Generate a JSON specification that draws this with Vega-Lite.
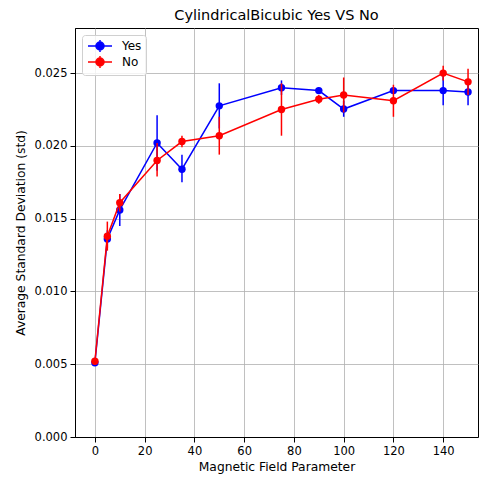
{
  "$schema": "https://vega.github.io/schema/vega-lite/v6.json",
  "autosize": {"type": "none"},
  "padding": {"left": 75, "top": 28, "right": 1, "bottom": 42},
  "width": 403,
  "height": 409,
  "background": "white",
  "title": {"text": "CylindricalBicubic Yes VS No", "font": "DejaVu Sans", "fontSize": 14.5, "fontWeight": "normal", "color": "black", "offset": 5},
  "config": {
    "view": {"stroke": "black", "strokeWidth": 1},
    "font": "DejaVu Sans",
    "axis": {"labelFont": "DejaVu Sans", "titleFont": "DejaVu Sans", "labelFontSize": 11.5, "titleFontSize": 12.3, "titleFontWeight": "normal", "labelColor": "black", "titleColor": "black", "gridColor": "#b0b0b0", "gridWidth": 0.8, "domainColor": "black", "tickColor": "black", "tickSize": 5, "labelPadding": 3}
  },
  "data": {"values": [
    {"x": 0, "y": 0.0051, "lo": 0.0049, "hi": 0.0053, "s": "Yes"},
    {"x": 5, "y": 0.0136, "lo": 0.0130, "hi": 0.0142, "s": "Yes"},
    {"x": 10, "y": 0.0156, "lo": 0.0145, "hi": 0.0167, "s": "Yes"},
    {"x": 25, "y": 0.0202, "lo": 0.0183, "hi": 0.0221, "s": "Yes"},
    {"x": 35, "y": 0.0184, "lo": 0.0175, "hi": 0.0194, "s": "Yes"},
    {"x": 50, "y": 0.02275, "lo": 0.0212, "hi": 0.0243, "s": "Yes"},
    {"x": 75, "y": 0.0240, "lo": 0.0235, "hi": 0.0245, "s": "Yes"},
    {"x": 90, "y": 0.0238, "lo": 0.0236, "hi": 0.0240, "s": "Yes"},
    {"x": 100, "y": 0.02253, "lo": 0.0220, "hi": 0.0231, "s": "Yes"},
    {"x": 120, "y": 0.0238, "lo": 0.0236, "hi": 0.0240, "s": "Yes"},
    {"x": 140, "y": 0.0238, "lo": 0.0228, "hi": 0.0248, "s": "Yes"},
    {"x": 150, "y": 0.0237, "lo": 0.0228, "hi": 0.0246, "s": "Yes"},
    {"x": 0, "y": 0.0052, "lo": 0.0050, "hi": 0.0054, "s": "No"},
    {"x": 5, "y": 0.0138, "lo": 0.0128, "hi": 0.0148, "s": "No"},
    {"x": 10, "y": 0.0161, "lo": 0.0155, "hi": 0.0167, "s": "No"},
    {"x": 25, "y": 0.0190, "lo": 0.0179, "hi": 0.0202, "s": "No"},
    {"x": 35, "y": 0.0203, "lo": 0.0199, "hi": 0.0207, "s": "No"},
    {"x": 50, "y": 0.0207, "lo": 0.0194, "hi": 0.0220, "s": "No"},
    {"x": 75, "y": 0.0225, "lo": 0.0207, "hi": 0.0243, "s": "No"},
    {"x": 90, "y": 0.0232, "lo": 0.0229, "hi": 0.0235, "s": "No"},
    {"x": 100, "y": 0.0235, "lo": 0.0223, "hi": 0.0247, "s": "No"},
    {"x": 120, "y": 0.0231, "lo": 0.0220, "hi": 0.0242, "s": "No"},
    {"x": 140, "y": 0.0250, "lo": 0.0245, "hi": 0.0255, "s": "No"},
    {"x": 150, "y": 0.0244, "lo": 0.0235, "hi": 0.0253, "s": "No"}
  ]},
  "encoding": {
    "x": {"field": "x", "type": "quantitative", "scale": {"domain": [-8, 154], "nice": false, "zero": false},
      "axis": {"title": "Magnetic Field Parameter", "values": [0, 20, 40, 60, 80, 100, 120, 140], "titlePadding": 4}},
    "y": {"field": "y", "type": "quantitative", "scale": {"domain": [0, 0.0281], "nice": false},
      "axis": {"title": "Average Standard Deviation (std)", "values": [0, 0.005, 0.01, 0.015, 0.02, 0.025], "format": ".3f", "titlePadding": 7}},
    "color": {"field": "s", "type": "nominal", "scale": {"domain": ["Yes", "No"], "range": ["blue", "red"]}}
  },
  "layer": [
    {"transform": [{"filter": "datum.s === 'Yes'"}], "mark": {"type": "rule", "strokeWidth": 1.5},
      "encoding": {"y": {"field": "lo", "type": "quantitative"}, "y2": {"field": "hi"}}},
    {"transform": [{"filter": "datum.s === 'Yes'"}], "mark": {"type": "line", "strokeWidth": 1.5}},
    {"transform": [{"filter": "datum.s === 'Yes'"}], "mark": {"type": "point", "filled": true, "size": 55, "opacity": 1}},
    {"transform": [{"filter": "datum.s === 'No'"}], "mark": {"type": "rule", "strokeWidth": 1.5},
      "encoding": {"y": {"field": "lo", "type": "quantitative"}, "y2": {"field": "hi"}}},
    {"transform": [{"filter": "datum.s === 'No'"}], "mark": {"type": "line", "strokeWidth": 1.5}},
    {"transform": [{"filter": "datum.s === 'No'"}], "mark": {"type": "point", "filled": true, "size": 55, "opacity": 1},
      "encoding": {"color": {"field": "s", "type": "nominal", "scale": {"domain": ["Yes", "No"], "range": ["blue", "red"]},
        "legend": {"title": null, "orient": "top-left", "offset": 7, "padding": 4, "strokeColor": "#d0d0d0", "fillColor": "rgba(255,255,255,0.8)", "cornerRadius": 3,
          "labelFont": "DejaVu Sans", "labelFontSize": 12, "labelColor": "black", "rowPadding": -2, "labelOffset": 15, "symbolOffset": 7,
          "symbolType": "M-2,0L2,0M-0.67,0A0.67,0.67 0 1,1 0.67,0A0.67,0.67 0 1,1 -0.67,0ZM0,-1L0,1",
          "symbolSize": 144, "symbolStrokeWidth": 1.5, "symbolOpacity": 1,
          "encode": {"symbols": {"update": {"stroke": {"field": "value", "scale": "color"}, "fill": {"field": "value", "scale": "color"}}}}}}}}
  ]
}
